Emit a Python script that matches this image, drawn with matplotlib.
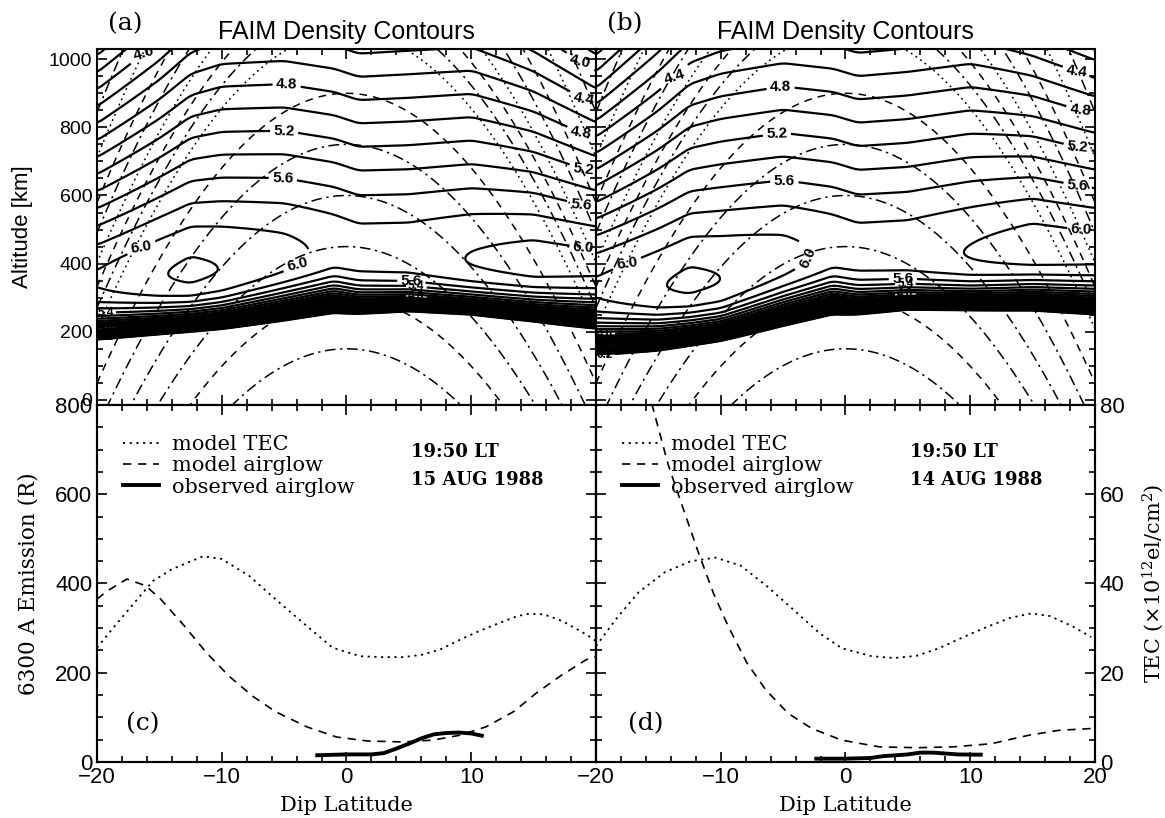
import numpy as np
import matplotlib
matplotlib.use("Agg")
import matplotlib.pyplot as plt
from matplotlib.lines import Line2D
from matplotlib.ticker import MultipleLocator

plt.rcParams['mathtext.fontset'] = 'dejavuserif'

# ---------------- top panels: F-layer description ----
lat_nodes = [-20, -15, -12.5, -10, -5, -1, 1, 5, 10, 15, 20]

# (a) 15 AUG 1988
peak_a = [6.02, 6.185, 6.24, 6.195, 6.07, 5.93, 5.91, 5.92, 6.01, 6.08, 6.05]   # log10 NmF2
hmax_a = [355, 368, 375, 385, 420, 445, 428, 425, 412, 405, 400]                # hmF2 [km]
htop_a = [54, 62, 68, 72, 74, 74, 74, 75, 74, 64, 54]                           # topside scale [km]
hbase_a = [196, 214, 222, 229, 246, 264, 272, 284, 276, 251, 218]               # bottomside edge [km]

# (b) 14 AUG 1988
peak_b = [6.03, 6.185, 6.24, 6.20, 6.08, 5.93, 5.91, 5.92, 6.01, 6.10, 6.07]
hmax_b = [330, 335, 345, 355, 410, 445, 430, 432, 432, 445, 440]
htop_b = [52, 62, 68, 72, 74, 74, 74, 75, 74, 64, 58]
hbase_b = [128, 156, 174, 191, 224, 254, 268, 288, 286, 279, 262]

all_levels = np.round(np.arange(0.2, 6.21, 0.2), 1)
label_levels = np.array([4.0, 4.4, 4.8, 5.2, 5.6, 6.0])
label_pos_a = [(-16.2, 1015), (-4.8, 924), (-5.0, 800), (-5.1, 668),
               (-16.5, 478), (-3.9, 384), (5.2, 355), (18.7, 969), (19.0, 872),
               (18.8, 772), (19.0, 673), (18.8, 564), (19.0, 427)]
label_pos_b = [(-13.9, 1005), (-5.2, 906), (-5.5, 785), (-4.9, 654), (-17.5, 392),
               (-2.9, 404), (4.6, 370), (18.5, 941), (18.8, 832), (18.6, 727),
               (18.6, 619), (18.9, 472)]
band_pos_a = [(-19.3, 250), (-19.3, 215), (-19.3, 185), (5.6, 325), (5.6, 300)]
band_pos_b = [(-19.3, 195), (-19.3, 160), (-19.3, 130), (4.8, 335), (4.8, 310)]

# dipole field lines (apex height at the dip equator)
apex_km = [150, 300, 450, 600, 750, 900, 1080, 1150, 1220, 1300, 1400, 1500, 1650, 1800, 2000]
apex_style = ['-.', '--', '-.', '-.', '-.', '--', ':', '-.', '--', ':', '-.', '--', ':', '-.', '--']

# ---------------- bottom panels ----------------
# (c) 15 AUG 1988
lat_tec_c = [-20, -18.6, -17, -15.5, -14, -11.5, -10, -7.8, -5.7, -3.2, -1.1, 1.1, 2.9,
             4.5, 6, 7.5, 9.1, 10.6, 12.2, 13.7, 14.6, 15.8, 17.3, 19.2, 20]
tec_c = [25.6, 30.4, 35.7, 40.6, 43.2, 46.1, 45.5, 41.7, 36.5, 30.5, 25.6, 23.7, 23.5,
         23.5, 24.0, 25.2, 27.4, 29.3, 31.1, 32.7, 33.2, 33.1, 31.6, 28.6, 27.1]
lat_glow_c = [-20, -19.2, -17.6, -16.1, -14.9, -13, -11.2, -9.4, -7.5, -5.7, -3.2, -0.8,
              1.7, 4.5, 6.9, 9.1, 11.2, 13.4, 15.2, 17.1, 19.2, 20]
glow_c = [365, 383, 410, 395, 365, 305, 244, 192, 147, 113, 79, 56,
          47, 45, 49, 60, 79, 113, 154, 192, 229, 237]
lat_obs_c = [-2.5, 0, 2, 3, 4, 5, 6, 7, 8, 9, 10, 11]
obs_c = [15, 17, 17, 20, 30, 41, 53, 62, 65, 66, 64, 58]

# (d) 14 AUG 1988
lat_tec_d = [-20, -18.4, -16.6, -14.5, -12.4, -10.4, -8.4, -6.3, -4.2, -2.1, -0.3, 2.1,
             3.9, 5.7, 7.5, 9.3, 11.1, 13.2, 14.9, 16.4, 18.2, 19.7]
tec_d = [26, 32, 38, 42.5, 45, 45.8, 44, 39.4, 34.2, 28.9, 25.5, 23.7,
         23.3, 23.8, 25.5, 27.8, 30, 32.3, 33.3, 32.7, 30.4, 28]
lat_glow_d = [-16.5, -15.5, -14.2, -13, -11.8, -10.6, -9.4, -7.9, -6.4, -4.6, -2.7, -0.3,
              2.7, 5.7, 8.7, 11.7, 14.7, 17.1, 19.7, 20]
glow_d = [900, 800, 665, 567, 470, 379, 304, 222, 162, 109, 75, 49,
          34, 32, 34, 41, 60, 71, 75, 75]
lat_obs_d = [-2.5, 0, 2, 3, 4, 5, 6, 7, 8, 9, 10, 11]
obs_d = [7.5, 7.5, 9, 13, 15, 17, 21, 21, 19, 17, 16.5, 16.5]

lat_ticks = [-20, -10, 0, 10, 20]
lat_ticklabels_c = ['\u221220', '\u221210', '0', '10', '']
lat_ticklabels_d = ['\u221220', '\u221210', '0', '10', '20']

RE = 6371.0
H_BOT = 60.0
S_BASE = 21.0

SANS = 'Liberation Sans'
SERIF = 'DejaVu Serif'

DASHDOT = (0, (7, 3, 1.5, 3))
DASHED = (0, (5, 4))
DOTTED = (0, (1.2, 2.5))
style_map = {'-.': DASHDOT, '--': DASHED, ':': DOTTED}


def smooth(y, n=9):
    pad = np.pad(y, n // 2, mode='edge')
    return np.convolve(pad, np.ones(n) / n, mode='valid')


def log_density(lat, alt, peak, hmax, htop, hbase):
    p = smooth(np.interp(lat, lat_nodes, peak))
    hm = smooth(np.interp(lat, lat_nodes, hmax))
    ht = smooth(np.interp(lat, lat_nodes, htop))
    hb = smooth(np.interp(lat, lat_nodes, hbase))
    LA, HA = np.meshgrid(lat, alt)
    z = np.where(HA >= hm, (HA - hm) / ht, (HA - hm) / H_BOT)
    logn = p + 0.5 * np.log10(np.e) * (1 - z - np.exp(np.clip(-z, None, 50)))
    logn = logn - np.exp(np.clip(-(HA - hb) / S_BASE, None, 50))
    return logn


def frame(ax, xlabels=True, ylabels=True, size=14):
    ax.tick_params(which='both', direction='in', top=True, right=True, width=1.2,
                   labelsize=size, labelbottom=xlabels, labelleft=ylabels)
    ax.tick_params(which='major', length=7)
    ax.tick_params(which='minor', length=4)
    for s in ax.spines.values():
        s.set_linewidth(1.5)
    for t in ax.get_xticklabels() + ax.get_yticklabels():
        t.set_family(SANS)


fig = plt.figure(figsize=(11.65, 8.18), dpi=100)
x0, x1, w = 97 / 1165, 596 / 1165, 499 / 1165
ax_a = fig.add_axes([x0, 0.50489, w, 0.43521])
ax_b = fig.add_axes([x1, 0.50489, w, 0.43521])
ax_c = fig.add_axes([x0, 0.06846, w, 0.43643])
ax_d = fig.add_axes([x1, 0.06846, w, 0.43643])

lat_grid = np.linspace(-20, 20, 401)
alt_grid = np.linspace(-15, 1030, 700)
other_levels = np.array([v for v in all_levels if not np.isclose(label_levels, v).any()])

panels = [(ax_a, peak_a, hmax_a, htop_a, hbase_a, label_pos_a, band_pos_a, '(a)'),
          (ax_b, peak_b, hmax_b, htop_b, hbase_b, label_pos_b, band_pos_b, '(b)')]
for ax, pk, hm, ht, hb, lpos, bpos, tag in panels:
    for apex, st in zip(apex_km, apex_style):
        fl_lat = np.linspace(-20, 20, 500)
        fl_alt = (RE + apex) * np.cos(np.radians(fl_lat)) ** 2 - RE
        ax.plot(fl_lat, fl_alt, color='k', lw=1.1, linestyle=style_map[st], zorder=1)
    logn = log_density(lat_grid, alt_grid, pk, hm, ht, hb)
    cs_other = ax.contour(lat_grid, alt_grid, logn, levels=other_levels, colors='k',
                          linewidths=1.6, zorder=2)
    cs_lab = ax.contour(lat_grid, alt_grid, logn, levels=label_levels, colors='k',
                        linewidths=1.6, zorder=2)
    ax.clabel(cs_lab, manual=lpos, fmt='%.1f', fontsize=11, inline=True, inline_spacing=2)
    ax.clabel(cs_other, manual=bpos, fmt='%.1f', fontsize=8.5, inline=True, inline_spacing=1)
    for cs in (cs_lab, cs_other):
        for t in cs.labelTexts:
            t.set_family(SANS)
            t.set_fontweight('bold')
    ax.set_xlim(-20, 20)
    ax.set_ylim(-15, 1030)
    ax.xaxis.set_major_locator(MultipleLocator(10))
    ax.xaxis.set_minor_locator(MultipleLocator(2))
    ax.yaxis.set_major_locator(MultipleLocator(200))
    ax.yaxis.set_minor_locator(MultipleLocator(50))
    frame(ax, xlabels=False, ylabels=(ax is ax_a), size=14)
    ax.text(0.5, 1.048, 'FAIM Density Contours', transform=ax.transAxes,
            ha='center', va='center', fontsize=18, family=SANS)
    ax.text(0.022, 1.07, tag, transform=ax.transAxes, ha='left', va='center',
            fontsize=18, family=SERIF)

ax_a.set_ylabel('Altitude [km]', family=SANS, fontsize=16)
ax_a.yaxis.set_label_coords(-0.128, 0.5)

bottom = [(ax_c, lat_tec_c, tec_c, lat_glow_c, glow_c, lat_obs_c, obs_c, '(c)', '15 AUG 1988',
           lat_ticklabels_c),
          (ax_d, lat_tec_d, tec_d, lat_glow_d, glow_d, lat_obs_d, obs_d, '(d)', '14 AUG 1988',
           lat_ticklabels_d)]
for ax, lt, tec, lg, glow, lo, obs, tag, date, xtl in bottom:
    axt = ax.twinx()
    axt.plot(lt, tec, color='k', lw=1.3, linestyle=DOTTED)
    ax.plot(lg, glow, color='k', lw=1.2, linestyle=DASHED)
    ax.plot(lo, obs, color='k', lw=2.8, solid_capstyle='butt')
    ax.set_xlim(-20, 20)
    ax.set_ylim(0, 800)
    axt.set_ylim(0, 80)
    ax.set_xticks(lat_ticks, xtl)
    ax.xaxis.set_minor_locator(MultipleLocator(2))
    ax.yaxis.set_major_locator(MultipleLocator(200))
    ax.yaxis.set_minor_locator(MultipleLocator(50))
    axt.yaxis.set_major_locator(MultipleLocator(20))
    axt.yaxis.set_minor_locator(MultipleLocator(5))
    frame(ax, xlabels=True, ylabels=(ax is ax_c), size=16)
    ax.tick_params(which='both', right=False)
    axt.tick_params(which='both', direction='in', width=1.2, labelsize=16,
                    labelright=(ax is ax_d))
    axt.tick_params(which='major', length=7)
    axt.tick_params(which='minor', length=4)
    for s in axt.spines.values():
        s.set_linewidth(1.5)
    for t in axt.get_yticklabels():
        t.set_family(SANS)
    ax.set_xlabel('Dip Latitude', family=SERIF, fontsize=15)
    ax.xaxis.set_label_coords(0.5, -0.095)
    handles = [Line2D([], [], color='k', lw=1.3, linestyle=DOTTED),
               Line2D([], [], color='k', lw=1.2, linestyle=DASHED),
               Line2D([], [], color='k', lw=2.8)]
    ax.legend(handles, ['model TEC', 'model airglow', 'observed airglow'],
              loc='upper left', bbox_to_anchor=(0.052, 0.915), frameon=False,
              borderpad=0, borderaxespad=0, handlelength=1.73,
              handletextpad=0.62, labelspacing=0.1,
              prop={'family': SERIF, 'size': 15})
    ax.text(5.17, 694, '19:50 LT', ha='left', va='center', fontsize=13,
            fontweight='bold', family=SERIF)
    ax.text(5.17, 631, date, ha='left', va='center', fontsize=13,
            fontweight='bold', family=SERIF)
    ax.text(-17.7 if ax is ax_c else -17.4, 86, tag, ha='left', va='center',
            fontsize=18, family=SERIF)
    if ax is ax_d:
        axt.set_ylabel('TEC (\u00d710$^{12}$el/cm$^{2}$)', family=SERIF, fontsize=15)
        axt.yaxis.set_label_coords(1.09, 0.5)

ax_c.set_ylabel('6300 A Emission (R)', family=SERIF, fontsize=15.5)
ax_c.yaxis.set_label_coords(-0.116, 0.5)

fig.savefig('out.png', dpi=100)
